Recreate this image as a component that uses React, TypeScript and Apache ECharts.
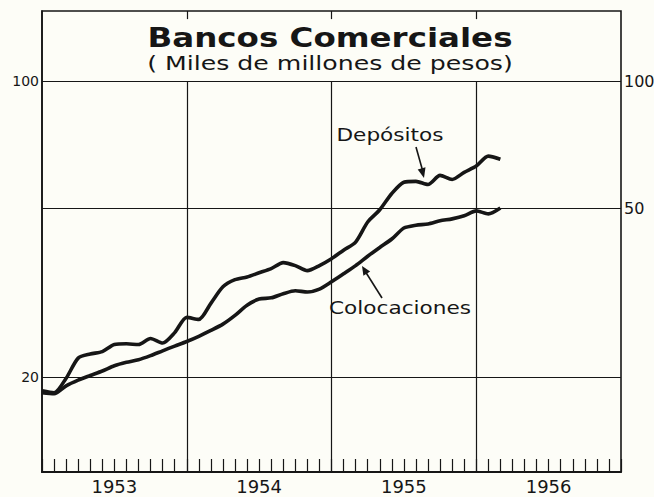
import React, { useEffect, useRef } from "react";
import * as echarts from "echarts";

// Month index from Jan 1953 (0) to Mar 1956 (38)
const monthIndex = Array.from({ length: 39 }, (_, i) => i);

const depositos = [18.6, 18.4, 19.9, 22.2, 22.7, 23.0, 23.9, 24.0, 23.9, 24.7, 24.1, 25.5, 27.7, 27.4, 29.9, 32.7, 34.0, 34.5, 35.3, 36.1, 37.3, 36.7, 35.7, 36.7, 38.1, 39.9, 41.7, 46.5, 49.7, 54.3, 57.7, 58.0, 57.0, 59.9, 58.6, 60.9, 63.0, 66.5, 65.4];
const colocaciones = [18.4, 18.3, 19.1, 19.7, 20.2, 20.7, 21.3, 21.7, 22.0, 22.5, 23.1, 23.7, 24.3, 25.0, 25.8, 26.7, 28.0, 29.6, 30.6, 30.8, 31.5, 32.0, 31.8, 32.3, 33.6, 35.1, 36.7, 38.6, 40.5, 42.4, 45.0, 45.7, 46.0, 46.8, 47.3, 48.1, 49.4, 48.6, 50.2];

const yearLabels: Record<number, string> = { 6: "1953", 18: "1954", 30: "1955", 42: "1956" };
const yearBoundaries = [12, 24, 36];
const leftTicks = [100, 20];
const rightTicks = [100, 50];
const gridValues = [100, 50, 20];
const yMin = 11.96;
const yMax = 146.3;
const stubTop = 140;

const INK = "#161616";
const FONT = "DejaVu Sans";

export default function App() {
  const ref = useRef<HTMLDivElement>(null);
  useEffect(() => {
    if (!ref.current) return;
    const chart = echarts.init(ref.current, null, { renderer: "svg" });

    const hLines: any[] = [];
    gridValues.forEach((v) => {
      hLines.push({
        yAxis: v,
        label: leftTicks.includes(v)
          ? { show: true, position: "start", formatter: String(v), color: INK, fontFamily: FONT, fontSize: 14, distance: 3 }
          : { show: false },
      });
    });
    rightTicks.forEach((v) => {
      hLines.push({
        yAxis: v,
        lineStyle: { color: "rgba(0,0,0,0)", width: 0 },
        label: { show: true, position: "end", formatter: String(v), color: INK, fontFamily: FONT, fontSize: 16, distance: 3 },
      });
    });
    const vLines: any[] = [];
    yearBoundaries.forEach((x) => {
      vLines.push([{ coord: [x, yMin] }, { coord: [x, 100] }]);
      vLines.push([{ coord: [x, stubTop] }, { coord: [x, yMax] }]);
    });

    const textEl = (text: string, x: number, y: number, font: string, scaleX: number) => ({
      type: "text",
      x,
      y,
      scaleX,
      style: { text, x: 0, y: 0, align: "center", verticalAlign: "middle", fill: INK, font },
    });

    chart.setOption({
      animation: false,
      backgroundColor: "#fdfdf7",
      grid: { left: 42, right: 33, top: 11, bottom: 25, show: true, borderColor: INK, borderWidth: 1.6 },
      xAxis: {
        type: "value",
        min: 0,
        max: 48,
        interval: 1,
        splitLine: { show: false },
        axisLine: { show: true, lineStyle: { color: INK, width: 2 } },
        axisTick: { show: true, inside: true, length: 13, lineStyle: { color: INK, width: 1.2 } },
        axisLabel: {
          show: true,
          formatter: (v: number) => yearLabels[v] || "",
          color: INK,
          fontFamily: FONT,
          fontSize: 18,
          margin: 5,
        },
      },
      yAxis: {
        type: "log",
        logBase: 10,
        min: yMin,
        max: yMax,
        splitLine: { show: false },
        axisLine: { show: true, lineStyle: { color: INK, width: 1.6 } },
        axisTick: { show: false },
        axisLabel: { show: false },
      },
      series: [
        {
          name: "Depósitos",
          type: "line",
          data: monthIndex.map((m, i) => [m, depositos[i]]),
          showSymbol: false,
          smooth: 0.25,
          lineStyle: { color: INK, width: 3.6 },
          z: 5,
          markLine: {
            silent: true,
            symbol: ["none", "none"],
            lineStyle: { color: INK, width: 1.2, type: "solid" },
            label: { show: false },
            data: [...hLines, ...vLines],
          },
        },
        {
          name: "Colocaciones",
          type: "line",
          data: monthIndex.map((m, i) => [m, colocaciones[i]]),
          showSymbol: false,
          smooth: 0.25,
          lineStyle: { color: INK, width: 3.6 },
          z: 5,
        },
      ],
      graphic: [
        textEl("Bancos Comerciales", 330, 38, `bold 26px "${FONT}"`, 1.25),
        textEl("( Miles de millones de pesos)", 330, 63, `20px "${FONT}"`, 1.26),
        textEl("Depósitos", 390, 135, `18px "${FONT}"`, 1.2),
        textEl("Colocaciones", 400, 308, `18px "${FONT}"`, 1.2),
        { type: "line", shape: { x1: 416, y1: 147, x2: 423, y2: 172 }, style: { stroke: INK, lineWidth: 1.6 } },
        { type: "polygon", shape: { points: [[424, 178], [425.5, 167.2], [417.7, 169.4]] }, style: { fill: INK } },
        { type: "line", shape: { x1: 382, y1: 298, x2: 365, y2: 271 }, style: { stroke: INK, lineWidth: 1.6 } },
        { type: "polygon", shape: { points: [[362, 266], [370.2, 271.5], [363.4, 275.8]] }, style: { fill: INK } },
      ],
    });
    return () => chart.dispose();
  }, []);
  return <div ref={ref} style={{ position: "fixed", left: 0, top: 0, width: 654, height: 497 }} />;
}
